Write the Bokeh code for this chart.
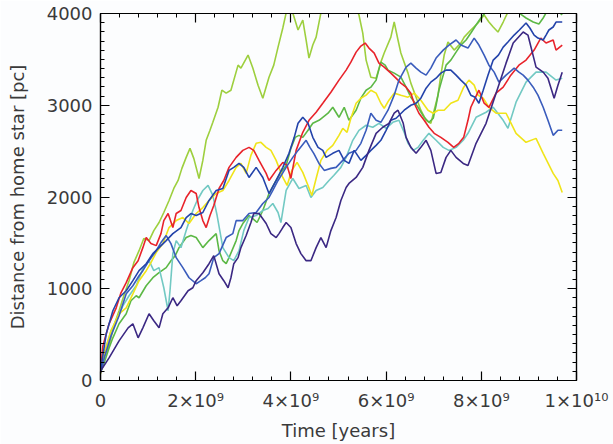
from bokeh.plotting import figure
from bokeh.models import Range1d, LinearAxis, SingleIntervalTicker, CustomJSTickFormatter
from bokeh.embed import file_html
from bokeh.resources import INLINE

# time in units of 1e9 years, distance in pc  (t, d) pairs
red = [(0,82),(0.05,377),(0.18,618),(0.33,792),(0.43,956),(0.54,1066),(0.68,1230),(0.79,1306),(0.89,1448),(0.96,1558),
       (1.06,1492),(1.17,1470),(1.27,1601),(1.33,1743),(1.42,1820),(1.52,1667),(1.59,1820),(1.69,1853),(1.80,1995),(1.90,2071),
       (2.01,2038),(2.07,1885),(2.15,1743),(2.22,1667),(2.30,1798),(2.38,1907),(2.49,2093),(2.59,2180),(2.70,2323),(2.85,2432),
       (2.99,2508),(3.12,2541),(3.22,2508),(3.33,2399),(3.48,2257),(3.54,2180),(3.69,2290),(3.83,2377),(3.92,2344),(4.00,2202),
       (4.11,2508),(4.25,2705),(4.38,2836),(4.53,2924),(4.67,3022),(4.84,3142),(5.01,3274),(5.16,3383),(5.26,3470),(5.37,3579),
       (5.47,3645),(5.56,3678),(5.64,3623),(5.75,3569),(5.85,3459),(5.96,3416),(6.10,3350),(6.25,3274),(6.31,3241),(6.42,3197),
       (6.52,3132),(6.59,3022),(6.69,2913),(6.80,2836),(6.90,2760),(7.01,2694),(7.15,2650),(7.30,2596),(7.42,2541),(7.53,2585),
       (7.63,2650),(7.72,2836),(7.78,2978),(7.85,3055),(7.95,3164),(8.06,3022),(8.16,2978),(8.31,3132),(8.46,3197),(8.62,3328),
       (8.79,3437),(8.94,3492),(9.11,3601),(9.25,3732),(9.36,3678),(9.51,3711),(9.57,3601),(9.70,3656)]

yellow = [(0,71),(0.05,246),(0.22,541),(0.39,727),(0.54,792),(0.68,945),(0.81,1088),(0.96,1197),(1.06,1284),(1.17,1394),
          (1.31,1492),(1.44,1667),(1.59,1743),(1.73,1776),(1.86,1711),(2.01,1820),(2.15,1885),(2.28,1962),(2.43,2038),(2.57,2071),
          (2.70,2180),(2.85,2323),(2.95,2366),(3.06,2257),(3.16,2454),(3.27,2585),(3.37,2596),(3.48,2541),(3.58,2508),(3.69,2399),
          (3.83,2213),(3.92,2126),(4.02,2290),(4.13,2377),(4.25,2268),(4.36,2126),(4.44,2017),(4.53,2202),(4.63,2399),(4.76,2508),
          (4.88,2563),(5.01,2672),(5.09,2749),(5.18,2705),(5.26,2858),(5.37,3022),(5.47,3077),(5.58,3110),(5.68,3164),(5.79,3132),
          (5.89,3022),(5.96,2967),(6.06,3055),(6.17,3132),(6.31,3110),(6.46,3088),(6.59,3132),(6.73,3055),(6.88,2946),(6.99,2913),
          (7.09,2946),(7.22,2946),(7.36,3022),(7.51,3055),(7.63,3197),(7.74,3274),(7.85,3219),(7.93,3110),(8.04,3077),(8.16,2978),
          (8.31,2913),(8.52,2913),(8.73,2694),(8.94,2596),(9.15,2639),(9.30,2476),(9.51,2257),(9.61,2180),(9.70,2049)]

purple = [(0,104),(0.18,246),(0.39,432),(0.58,574),(0.68,618),(0.79,465),(0.89,574),(1.02,727),(1.12,651),(1.23,574),
          (1.31,727),(1.42,792),(1.52,902),(1.61,814),(1.69,869),(1.84,978),(1.94,1011),(2.01,1088),(2.15,1175),(2.28,1273),
          (2.38,1361),(2.49,1164),(2.59,1088),(2.68,1011),(2.74,1120),(2.80,1273),(2.89,1339),(2.95,1448),(3.06,1580),(3.16,1722),
          (3.22,1820),(3.33,1820),(3.48,1711),(3.58,1601),(3.69,1558),(3.75,1601),(3.83,1667),(3.90,1722),(4.00,1667),(4.11,1492),
          (4.21,1383),(4.32,1306),(4.42,1306),(4.53,1448),(4.63,1558),(4.74,1448),(4.84,1634),(4.95,1776),(5.05,1962),(5.16,2104),
          (5.22,2148),(5.37,2213),(5.51,2323),(5.64,2508),(5.79,2694),(5.93,2760),(6.06,2803),(6.17,2913),(6.25,2946),(6.36,2803),
          (6.42,2650),(6.52,2541),(6.63,2476),(6.73,2541),(6.84,2618),(6.94,2508),(7.05,2257),(7.15,2268),(7.26,2432),(7.36,2508),
          (7.47,2432),(7.62,2366),(7.72,2344),(7.89,2585),(8.10,2803),(8.31,3132),(8.52,3459),(8.67,3678),(8.88,3798),(8.98,3765),
          (9.15,3416),(9.30,3361),(9.40,3295),(9.53,3077),(9.61,3219),(9.70,3361)]

cyan = [(0,82),(0.09,322),(0.22,541),(0.35,672),(0.47,814),(0.60,924),(0.75,1033),(0.89,1219),(1.02,1306),(1.12,1197),
        (1.23,1230),(1.33,1011),(1.42,760),(1.46,978),(1.52,1383),(1.59,1525),(1.69,1448),(1.80,1634),(1.94,1853),(2.03,1962),
        (2.15,2071),(2.26,2126),(2.36,2017),(2.45,1798),(2.57,1448),(2.70,1339),(2.80,1306),(2.91,1415),(3.01,1634),(3.12,1776),
        (3.27,1798),(3.41,1853),(3.52,1874),(3.62,1929),(3.73,1831),(3.79,1722),(3.90,2071),(4.04,2202),(4.17,2093),(4.32,2126),
        (4.42,1995),(4.53,2071),(4.67,2104),(4.80,2180),(4.90,2235),(5.05,2323),(5.16,2432),(5.30,2618),(5.43,2727),(5.58,2782),
        (5.72,2760),(5.85,2803),(6.00,2749),(6.14,2814),(6.27,2836),(6.38,2705),(6.46,2585),(6.57,2508),(6.67,2541),(6.78,2618),
        (6.90,2694),(7.05,2618),(7.20,2541),(7.32,2508),(7.47,2541),(7.62,2618),(7.72,2694),(7.89,2869),(8.10,2924),(8.25,2978),
        (8.46,2836),(8.56,2749),(8.73,3033),(8.94,3252),(9.15,3361),(9.36,3361),(9.57,3274),(9.70,3295)]

blue_a = [(0,104),(0.12,508),(0.26,760),(0.39,902),(0.54,978),(0.68,1088),(0.81,1197),(0.96,1273),(1.10,1383),(1.23,1448),
          (1.38,1525),(1.52,1601),(1.69,1667),(1.80,1776),(1.90,1820),(2.01,1798),(2.15,1831),(2.28,1962),(2.43,2071),(2.57,2093),
          (2.70,2290),(2.80,2323),(2.91,2366),(3.01,2323),(3.12,2213),(3.27,2323),(3.41,2213),(3.54,2038),(3.69,2180),(3.83,2323),
          (3.96,2476),(4.07,2650),(4.15,2803),(4.25,2869),(4.36,2803),(4.46,2650),(4.57,2541),(4.67,2508),(4.74,2432),(4.88,2476),
          (5.01,2508),(5.12,2399),(5.22,2366),(5.33,2508),(5.47,2399),(5.58,2454),(5.68,2508),(5.79,2563),(5.89,2618),(6.00,2727),
          (6.10,2836),(6.21,2858),(6.38,2946),(6.52,3000),(6.63,3022),(6.73,3077),(6.84,3186),(6.94,3252),(7.05,3295),(7.15,3350),
          (7.26,3383),(7.36,3383),(7.47,3328),(7.57,3274),(7.68,3219),(7.78,3110),(7.87,3088),(7.95,3022),(8.04,3164),(8.14,3328),
          (8.25,3492),(8.36,3547),(8.46,3634),(8.56,3689),(8.69,3765),(8.80,3820),(8.94,3896),(9.02,3842),(9.11,3765),(9.19,3732),
          (9.30,3711),(9.36,3765),(9.42,3820),(9.51,3853),(9.57,3907),(9.70,3907)]

blue_b = [(0,82),(0.09,268),(0.22,486),(0.39,705),(0.54,945),(0.68,1033),(0.81,1142),(0.89,1197),(1.02,1306),(1.17,1415),
          (1.27,1503),(1.38,1580),(1.48,1492),(1.59,1339),(1.73,1230),(1.86,1120),(2.01,1055),(2.11,1088),(2.20,1120),(2.28,1164),
          (2.38,1339),(2.49,1383),(2.64,1558),(2.78,1601),(2.85,1743),(2.99,1743),(3.12,1820),(3.27,1831),(3.41,1929),(3.54,1995),
          (3.62,2071),(3.73,2180),(3.90,2323),(4.04,2432),(4.15,2508),(4.32,2618),(4.40,2541),(4.48,2476),(4.59,2366),(4.70,2290),
          (4.84,2312),(4.95,2323),(5.09,2399),(5.22,2476),(5.37,2508),(5.47,2585),(5.58,2727),(5.68,2913),(5.79,2836),(5.89,2814),
          (6.04,2946),(6.17,3110),(6.27,3274),(6.42,3416),(6.52,3459),(6.63,3405),(6.73,3361),(6.84,3328),(6.94,3405),(7.05,3514),
          (7.20,3601),(7.32,3656),(7.47,3711),(7.57,3656),(7.72,3623),(7.85,3732),(7.95,3656),(8.06,3547),(8.16,3437),(8.27,3361),
          (8.37,3252),(8.52,3328),(8.69,3405),(8.79,3361),(8.88,3328),(8.98,3274),(9.09,3197),(9.19,3110),(9.30,2978),(9.40,2836),
          (9.51,2672),(9.61,2727),(9.70,2727)]

light_green = [(0,82),(0.09,268),(0.18,377),(0.28,596),(0.39,760),(0.49,924),(0.60,1088),(0.70,1284),(0.81,1415),(0.91,1547),
               (1.02,1525),(1.12,1634),(1.23,1722),(1.33,1831),(1.44,1962),(1.54,2093),(1.63,2180),(1.71,2312),(1.80,2432),(1.88,2530),
               (1.96,2421),(2.07,2202),(2.15,2399),(2.22,2618),(2.30,2727),(2.36,2814),(2.47,2978),(2.55,3164),(2.64,3132),(2.74,3164),
               (2.89,3437),(2.95,3405),(3.10,3547),(3.20,3405),(3.31,3219),(3.41,3077),(3.54,3306),(3.64,3437),(3.73,3634),(3.83,3842),
               (3.90,4006),(3.96,4082),(4.04,4006),(4.15,3820),(4.25,3929),(4.32,3711),(4.38,3514),(4.46,3656),(4.53,3743),(4.63,4006),
               (4.74,4093),(4.88,4148),(5.05,4203),(5.22,4126),(5.37,4060),(5.43,3984),(5.51,3787),(5.58,3492),(5.68,3306),(5.79,3295),
               (5.89,3470),(5.96,3569),(6.10,3743),(6.17,3907),(6.25,3711),(6.31,3569),(6.46,3350),(6.52,3241),(6.63,3088),(6.73,2946),
               (6.84,2836),(6.94,2803),(7.01,2946),(7.09,3110),(7.15,3328),(7.22,3547),(7.30,3689),(7.43,3601),(7.57,3678),(7.64,3743),
               (7.78,3820),(7.93,3896),(8.06,3984),(8.16,3907),(8.25,3853),(8.35,3798),(8.46,3907),(8.56,4017),(8.67,4093),(8.83,4148),
               (9.04,4126),(9.25,4181),(9.46,4148),(9.70,4093)]

green = [(0,82),(0.09,213),(0.18,355),(0.26,465),(0.39,618),(0.54,727),(0.64,869),(0.75,924),(0.81,902),(0.96,1033),
         (1.10,1120),(1.23,1175),(1.38,1230),(1.48,1306),(1.57,1361),(1.65,1448),(1.80,1558),(1.90,1580),(2.01,1558),(2.15,1448),
         (2.28,1525),(2.43,1601),(2.49,1415),(2.57,1306),(2.64,1273),(2.70,1339),(2.85,1525),(2.91,1634),(2.99,1711),(3.12,1798),
         (3.20,1765),(3.29,1722),(3.41,1853),(3.54,2038),(3.69,2180),(3.79,2268),(3.90,2344),(4.00,2530),(4.09,2650),(4.17,2672),
         (4.25,2650),(4.36,2727),(4.46,2803),(4.59,2836),(4.67,2869),(4.78,2913),(4.88,2978),(5.01,2869),(5.12,2978),(5.22,2836),
         (5.37,2946),(5.47,3077),(5.58,3164),(5.68,3197),(5.79,3274),(5.89,3470),(5.98,3437),(6.04,3383),(6.17,3350),(6.31,3306),
         (6.42,3197),(6.52,3088),(6.67,2978),(6.80,2869),(6.90,2814),(6.99,2858),(7.05,3000),(7.11,3164),(7.17,3274),(7.26,3437),
         (7.36,3492),(7.47,3579),(7.57,3656),(7.68,3711),(7.78,3787),(7.89,3874),(7.99,3951),(8.10,4017),(8.20,4082),(8.35,4115),
         (8.52,4082),(8.67,4039),(8.79,4006),(8.94,3951),(9.09,3907),(9.21,3885),(9.30,3951),(9.36,4006),(9.46,4060),(9.57,4039),
         (9.70,3984)]

series = [
    (light_green, "#9dcf3e"),
    (green, "#5cb846"),
    (cyan, "#72c9c3"),
    (yellow, "#f0e41a"),
    (red, "#e8232b"),
    (blue_b, "#3a5cbc"),
    (blue_a, "#2343aa"),
    (purple, "#3b2883"),
]

x_ticks = [0, 2000000000, 4000000000, 6000000000, 8000000000, 10000000000]
x_tick_labels = ["0", "2×10⁹", "4×10⁹", "6×10⁹", "8×10⁹", "1×10¹⁰"]

BG = "#fcfdfe"
TXT = "#3a3a3a"
FONT = "DejaVu Sans"

p = figure(width=613, height=444, output_backend="svg", toolbar_location=None,
           x_range=Range1d(0, 1e10), y_range=Range1d(0, 4000),
           x_axis_type=None, y_axis_type=None,
           min_border_left=100, min_border_right=37, min_border_top=13, min_border_bottom=64)
p.background_fill_color = BG
p.border_fill_color = BG
p.outline_line_color = "black"
p.outline_line_width = 1.2
p.xgrid.visible = False
p.ygrid.visible = False

for pts, col in series:
    xs = [t * 1e9 for t, _ in pts]
    ys = [d for _, d in pts]
    p.line(xs, ys, line_color=col, line_width=1.6)

def style(ax, show_labels):
    ax.axis_line_color = "black"
    ax.axis_line_width = 1.2
    ax.major_tick_line_color = "black"
    ax.minor_tick_line_color = "black"
    ax.major_tick_line_width = 1.2
    ax.minor_tick_line_width = 1.0
    ax.major_tick_in = 9
    ax.major_tick_out = 0
    ax.minor_tick_in = 4
    ax.minor_tick_out = 0
    if show_labels:
        ax.major_label_text_font = FONT
        ax.major_label_text_font_size = "18px"
        ax.major_label_text_color = TXT
        ax.axis_label_text_font = FONT
        ax.axis_label_text_font_size = "18px"
        ax.axis_label_text_font_style = "normal"
        ax.axis_label_text_color = TXT
    else:
        # mirror axes: ticks only, no tick labels
        ax.formatter = CustomJSTickFormatter(code="return '';")
        ax.major_label_text_font_size = "1px"
        ax.major_label_standoff = 0

xb = LinearAxis(ticker=SingleIntervalTicker(interval=2e9, num_minor_ticks=5),
                axis_label="Time [years]",
                major_label_overrides={k: v for k, v in zip(x_ticks, x_tick_labels)})
style(xb, True)
xb.major_label_standoff = 9
xb.axis_label_standoff = 6
p.add_layout(xb, "below")

yl = LinearAxis(ticker=SingleIntervalTicker(interval=1000, num_minor_ticks=10),
                axis_label="Distance from home star [pc]")
style(yl, True)
yl.major_label_standoff = 8
yl.axis_label_standoff = 16
p.add_layout(yl, "left")

xt = LinearAxis(ticker=SingleIntervalTicker(interval=2e9, num_minor_ticks=5))
style(xt, False)
p.add_layout(xt, "above")

yr = LinearAxis(ticker=SingleIntervalTicker(interval=1000, num_minor_ticks=10))
style(yr, False)
p.add_layout(yr, "right")

open("out.html", "w").write(file_html(p, INLINE))
